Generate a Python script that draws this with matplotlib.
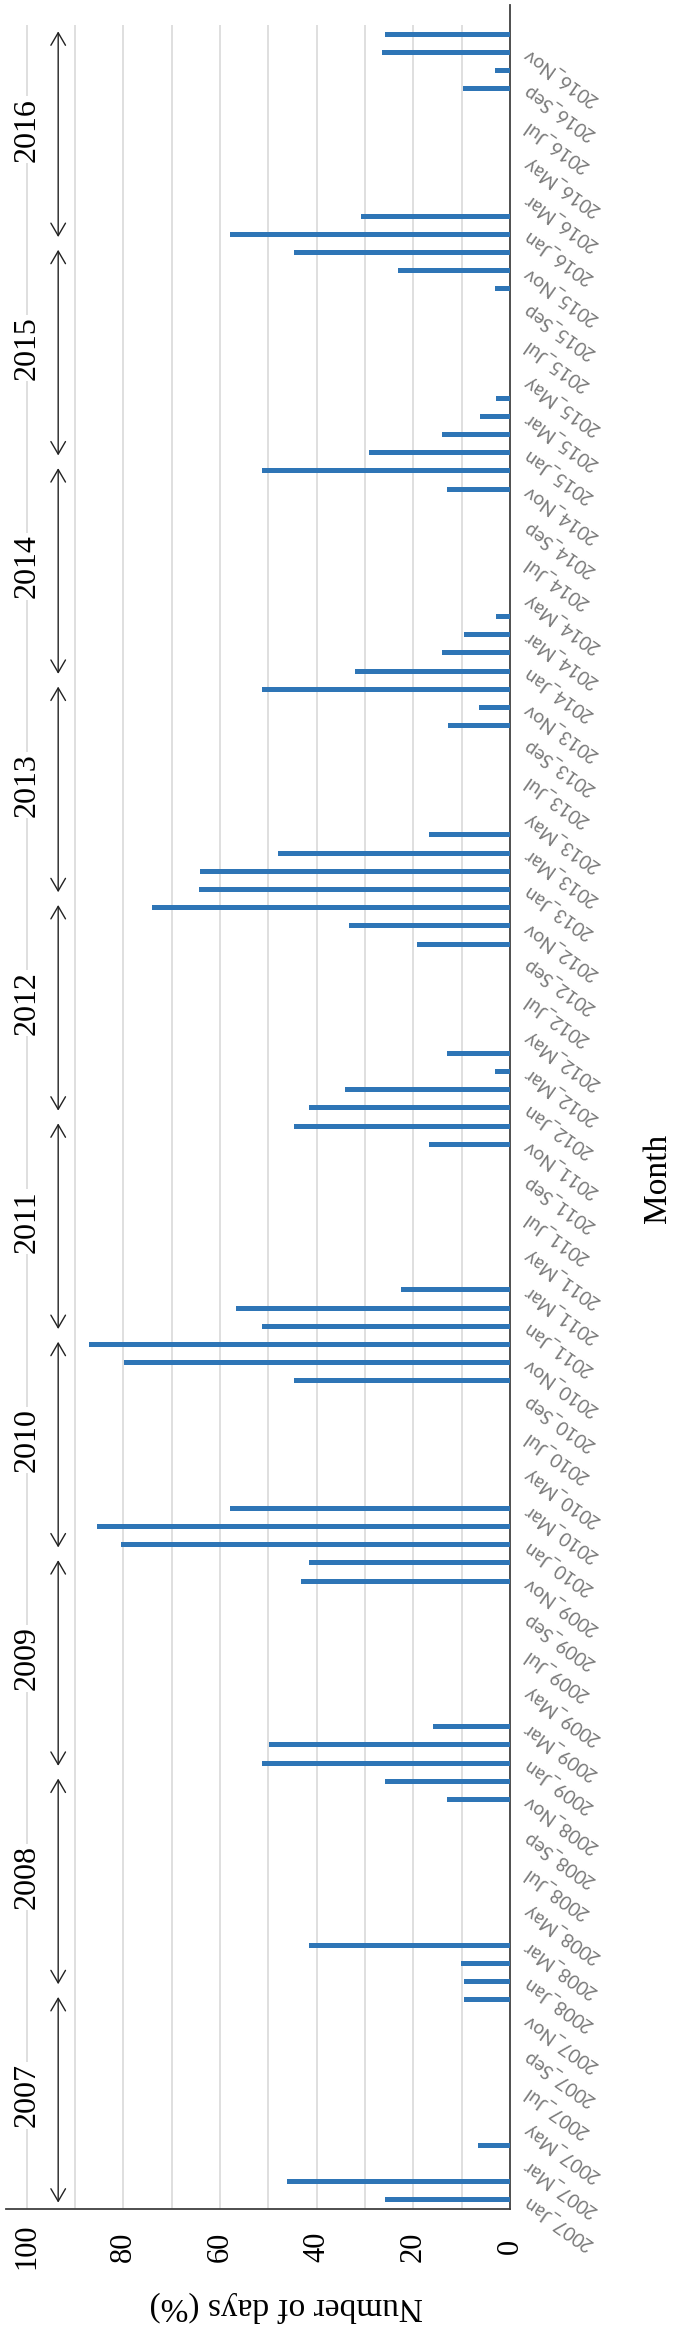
import matplotlib
matplotlib.use('Agg')
import matplotlib.pyplot as plt

years = list(range(2007, 2017))
month_names = ['Jan', 'Feb', 'Mar', 'Apr', 'May', 'Jun',
               'Jul', 'Aug', 'Sep', 'Oct', 'Nov', 'Dec']

# share of days in each month (%)
days_2007 = [25.8, 46.2, 0, 6.6, 0, 0, 0, 0, 0, 0, 0, 9.6]
days_2008 = [9.6, 10.2, 41.6, 0, 0, 0, 0, 0, 0, 0, 13.0, 25.8]
days_2009 = [51.3, 49.8, 16.0, 0, 0, 0, 0, 0, 0, 0, 43.3, 41.6]
days_2010 = [80.6, 85.4, 57.9, 0, 0, 0, 0, 0, 0, 44.8, 79.9, 87.1]
days_2011 = [51.3, 56.8, 22.5, 0, 0, 0, 0, 0, 0, 0, 16.7, 44.8]
days_2012 = [41.6, 34.1, 3.2, 13.0, 0, 0, 0, 0, 0, 19.3, 33.3, 74.0]
days_2013 = [64.3, 64.1, 48.1, 16.7, 0, 0, 0, 0, 0, 12.8, 6.5, 51.3]
days_2014 = [32.1, 14.0, 9.5, 2.9, 0, 0, 0, 0, 0, 0, 13.0, 51.3]
days_2015 = [29.1, 14.0, 6.2, 2.9, 0, 0, 0, 0, 0, 3.2, 23.1, 44.8]
days_2016 = [57.9, 30.9, 0, 0, 0, 0, 0, 0, 9.8, 3.2, 26.4, 25.8]

value_ticks = [0, 20, 40, 60, 80, 100]

values = (days_2007 + days_2008 + days_2009 + days_2010 + days_2011 +
          days_2012 + days_2013 + days_2014 + days_2015 + days_2016)
labels = ['%d_%s' % (y, m) for y in years for m in month_names]
pos = list(range(len(values)))

serif = 'Liberation Serif'

fig = plt.figure(figsize=(6.85, 23.45), dpi=100)
ax = fig.add_axes([6 / 685, 136 / 2345, 504 / 685, 2204 / 2345])

ax.barh(pos, values, height=0.27, color='#2e75b6', zorder=3)

# grid lines only over the month range
ax.vlines(range(10, 101, 10), -0.5, len(values) - 0.5, color='#dcdcdc', lw=1.3, zorder=1)

ax.set_xlim(104.3, 0)
ax.set_ylim(-0.5, 120.6)

for s in ['left', 'top']:
    ax.spines[s].set_visible(False)
ax.spines['right'].set_linewidth(1.3)
ax.spines['bottom'].set_linewidth(1.3)
ax.spines['right'].set_color('#404040')
ax.spines['bottom'].set_color('#404040')

ax.set_xticks(value_ticks)
ax.set_xticklabels([str(v) for v in value_ticks], rotation=90, va='center',
                   fontsize=22, family=serif)
ax.tick_params(axis='x', length=0, pad=27)

ax.yaxis.tick_right()
ax.set_yticks(pos[::2])
ax.set_yticklabels(labels[::2], fontsize=13.5, color='#7a7a7a', family='Lato')
ax.tick_params(axis='y', length=0, pad=11)
for lab in ax.get_yticklabels():
    lab.set_rotation(145)
    lab.set_rotation_mode('anchor')
    lab.set_ha('right')
    lab.set_va('center')

# year brackets
for k, y in enumerate(years):
    start = 12 * k - 0.5
    ax.annotate('', xy=(93.5, start + 0.35), xytext=(93.5, start + 12 - 0.35),
                arrowprops=dict(arrowstyle='<->,head_length=0.6,head_width=0.35',
                                color='#222222', lw=1.0, mutation_scale=15,
                                shrinkA=0, shrinkB=0), zorder=4)
    ax.text(100, 12 * k + 5.75, str(y), rotation=90, ha='center', va='center',
            fontsize=23, family=serif, zorder=5,
            bbox=dict(facecolor='white', edgecolor='none', pad=1))

fig.text(658 / 685, 1 - 1178 / 2345, 'Month', rotation=90, ha='center', va='center',
         fontsize=24, family=serif)
fig.text(286 / 685, 1 - 2307 / 2345, 'Number of days (%)', rotation=180, ha='center',
         va='center', fontsize=24, family=serif)

fig.savefig('out.png', dpi=100)
